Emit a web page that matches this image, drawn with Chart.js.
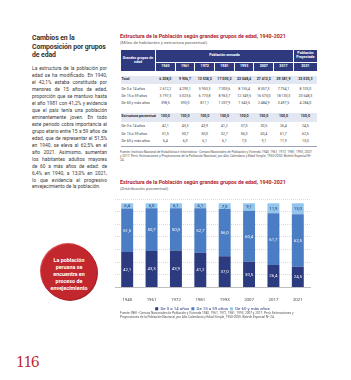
<!DOCTYPE html>
<html>
<head>
<meta charset="utf-8">
<script src="https://cdn.jsdelivr.net/npm/chart.js@4"></script>
<style>
  html, body { margin: 0; padding: 0; background: #fff; }
  body { width: 351px; height: 380px; position: relative; overflow: hidden; font-family: Roboto, sans-serif; color: #3a3a3a; }
  .abs { position: absolute; }
  #heading { left: 32px; top: 34px; font-size: 6.9px; font-weight: bold; line-height: 8.5px; color: #333; white-space: nowrap; letter-spacing: -0.1px; }
  #body { left: 32px; top: 65px; width: 75px; font-size: 4.9px; line-height: 6.97px; color: #3a3a3a; }
  #body div { text-align: justify; text-align-last: justify; white-space: nowrap; height: 6.97px; }
  #body div.end { text-align-last: left; }
  #circle { left: 41px; top: 244px; width: 56px; height: 56px; border-radius: 50%; background: #c1272d;
            box-shadow: 1px 1px 0 0 #a41f24, -1px -1px 0 0 #d84a4e; }
  #circleText { left: 41px; top: 257px; width: 56px; text-align: center; color: #fff; font-weight: bold; font-size: 5.4px; line-height: 6.9px; }
  #page { left: 16px; top: 354px; font-size: 14px; color: #c1272d; font-family: "DejaVu Serif", serif; letter-spacing: -1.5px; }
  .title { left: 120px; font-size: 5.3px; color: #b3252b; font-weight: bold; white-space: nowrap; }
  .sub { left: 120px; font-size: 4.4px; color: #666; white-space: nowrap; }
  .note { left: 120px; width: 192px; font-size: 3.2px; line-height: 4.1px; color: #555; }
  table { position: absolute; left: 120px; top: 49px; width: 197px; border-collapse: collapse; table-layout: fixed; font-size: 3.6px; }
  td, th { padding: 0; text-align: center; line-height: 1; overflow: hidden; white-space: nowrap; }
  th { background: #2e3a7d; color: #fff; font-weight: bold; border: 0.6px solid #fff; }
  td { color: #444; }
  td.lab { text-align: left; padding-left: 1px; }
  tr.band td { background: #e2e7f1; font-weight: bold; color: #2b2b2b; }
  tr.last td { border-bottom: 0.6px solid #9aa3b5; }
  #chartBox { left: 113px; top: 194px; width: 200px; height: 127px; }
</style>
</head>
<body>

<div id="heading" class="abs">Cambios en la<br>Composición por grupos<br>de edad</div>
<div id="body" class="abs">
<div>La estructura de la población por</div>
<div>edad se ha modificado. En 1940,</div>
<div>el 42,1% estaba constituida por</div>
<div>menores de 15 años de edad,</div>
<div>proporción que se mantuvo hasta</div>
<div>el año 1981 con 41,2% y evidencia</div>
<div>que el país tenía una población</div>
<div>eminentemente joven. En todo</div>
<div>este periodo cobra importancia el</div>
<div>grupo etario entre 15 a 59 años de</div>
<div>edad, que de representar el 51,5%</div>
<div>en 1940, se eleva al 62,5% en el</div>
<div>año 2021. Asimismo, aumentan</div>
<div>los habitantes adultos mayores</div>
<div>de 60 a más años de edad: de</div>
<div>6,4% en 1940, a 13,0% en 2021,</div>
<div>lo que evidencia el progresivo</div>
<div class="end">envejecimiento de la población.</div>
</div>

<div id="circle" class="abs"></div>
<div id="circleText" class="abs">La población<br>peruana se<br>encuentra en<br>proceso de<br>envejecimiento</div>
<div id="page" class="abs">116</div>

<div class="abs title" style="top:33px">Estructura de la Población según grandes grupos de edad, 1940-2021</div>
<div class="abs sub" style="top:40px">(Miles de habitantes y estructura porcentual)</div>

<table id="tbl"></table>

<div class="abs note" style="top:149.5px">Fuente: Instituto Nacional de Estadística e Informática - Censos Nacionales de Población y Vivienda 1940, 1961, 1972, 1981, 1993, 2007 y 2017. Perú: Estimaciones y Proyecciones de la Población Nacional, por Año Calendario y Edad Simple, 1950-2050. Boletín Especial Nº 24.</div>

<div class="abs title" style="top:179px">Estructura de la Población según grandes grupos de edad, 1940-2021</div>
<div class="abs sub" style="top:186px">(Distribución porcentual)</div>

<div id="chartBox" class="abs"><canvas id="chart"></canvas></div>

<div class="abs note" style="top:311px">Fuente: INEI - Censos Nacionales de Población y Vivienda 1940, 1961, 1972, 1981, 1993, 2007 y 2017. Perú: Estimaciones y Proyecciones de la Población Nacional, por Año Calendario y Edad Simple, 1950-2050. Boletín Especial Nº 24.</div>

<script>
const years = ['1940', '1961', '1972', '1981', '1993', '2007', '2017', '2021'];
const groups = ['De 0 a 14 años', 'De 15 a 59 años', 'De 60 y más años'];

// miles de habitantes
const total = ['6 208,0', '9 906,7', '13 538,2', '17 005,2', '22 048,4', '27 412,2', '29 381,9', '33 035,3'];
const pop0to14 = ['2 612,2', '4 290,1', '5 953,3', '7 003,6', '8 155,4', '8 357,3', '7 754,1', '8 103,0'];
const pop15to59 = ['3 197,3', '5 023,6', '6 773,8', '8 963,7', '12 349,5', '16 570,0', '18 130,3', '20 648,3'];
const pop60plus = ['398,5', '593,0', '811,1', '1 037,9', '1 543,5', '2 484,9', '3 497,5', '4 284,0'];

// estructura porcentual
const pct0to14 = [42.1, 43.3, 43.9, 41.2, 37.0, 30.5, 26.4, 24.5];
const pct15to59 = [51.5, 50.7, 50.0, 52.7, 56.0, 60.4, 61.7, 62.5];
const pct60plus = [6.4, 6.0, 6.1, 6.1, 7.0, 9.1, 11.9, 13.0];

const fmt = v => v.toFixed(1).replace('.', ',');

// table
const tbl = document.getElementById('tbl');
let html = '<colgroup><col style="width:35px">' + years.map((y, i) => '<col style="width:' + (i < 7 ? 19.7 : 24.1) + 'px">').join('') + '</colgroup>';
html += '<tr style="height:13px"><th rowspan="2">Grandes grupos de<br>edad</th><th colspan="7">Población censada</th><th>Población<br>Proyectada</th></tr>';
html += '<tr style="height:9px">' + years.map(y => '<th>' + y + '</th>').join('') + '</tr>';
const spacer = h => '<tr style="height:' + h + 'px"><td colspan="9"></td></tr>';
const row = (label, vals, cls, h) => '<tr class="' + cls + '" style="height:' + h + 'px"><td class="lab">' + label + '</td>' + vals.map(v => '<td>' + v + '</td>').join('') + '</tr>';
html += spacer(4);
html += row('Total', total, 'band', 8);
html += spacer(3);
html += row(groups[0], pop0to14, '', 7);
html += row(groups[1], pop15to59, '', 7);
html += row(groups[2], pop60plus, '', 7);
html += spacer(5);
html += row('Estructura porcentual', years.map(() => '100,0'), 'band', 9);
html += spacer(2);
html += row(groups[0], pct0to14.map(fmt), '', 7.5);
html += row(groups[1], pct15to59.map(fmt), '', 7.5);
html += row(groups[2], pct60plus.map(fmt), 'last', 7.5);
tbl.innerHTML = html;

// chart
const barLabels = {
  id: 'barLabels',
  afterDatasetsDraw(chart) {
    const ctx = chart.ctx;
    ctx.save();
    ctx.font = '4.4px Roboto';
    ctx.textAlign = 'center';
    ctx.textBaseline = 'middle';
    chart.data.datasets.forEach((ds, i) => {
      chart.getDatasetMeta(i).data.forEach((bar, j) => {
        const p = bar.getProps(['x', 'y', 'base'], true);
        ctx.fillStyle = ds.labelColor;
        ctx.fillText(fmt(ds.data[j]), p.x, (p.y + p.base) / 2 + 0.3);
      });
    });
    ctx.restore();
  }
};

new Chart(document.getElementById('chart'), {
  type: 'bar',
  data: {
    labels: years,
    datasets: [
      {label: groups[0], data: pct0to14, backgroundColor: '#2c3a7f', labelColor: '#ffffff'},
      {label: groups[1], data: pct15to59, backgroundColor: '#4a7dc3', labelColor: '#ffffff'},
      {label: groups[2], data: pct60plus, backgroundColor: '#94c6ed', labelColor: '#22306a'}
    ]
  },
  options: {
    responsive: true,
    maintainAspectRatio: false,
    animation: false,
    devicePixelRatio: 1,
    layout: {padding: {left: 2, right: 3, top: 5, bottom: 0}},
    datasets: {bar: {categoryPercentage: 1, barPercentage: 0.49, borderWidth: 0}},
    plugins: {
      tooltip: {enabled: false},
      legend: {
        position: 'bottom',
        labels: {boxWidth: 3, boxHeight: 3, padding: 2, color: '#2c3a7f', font: {family: 'Roboto', size: 4.4}}
      }
    },
    scales: {
      x: {
        stacked: true,
        grid: {display: false},
        border: {color: '#a0a0a0', width: 0.6},
        ticks: {color: '#444', padding: 2, font: {family: 'Roboto', size: 4.4}}
      },
      y: {
        stacked: true,
        min: 0,
        max: 105,
        ticks: {display: false, stepSize: 15},
        border: {display: false, dash: [1, 1]},
        grid: {color: '#b8c4da', lineWidth: 0.6, drawTicks: false}
      }
    }
  },
  plugins: [barLabels]
});
</script>
</body>
</html>
